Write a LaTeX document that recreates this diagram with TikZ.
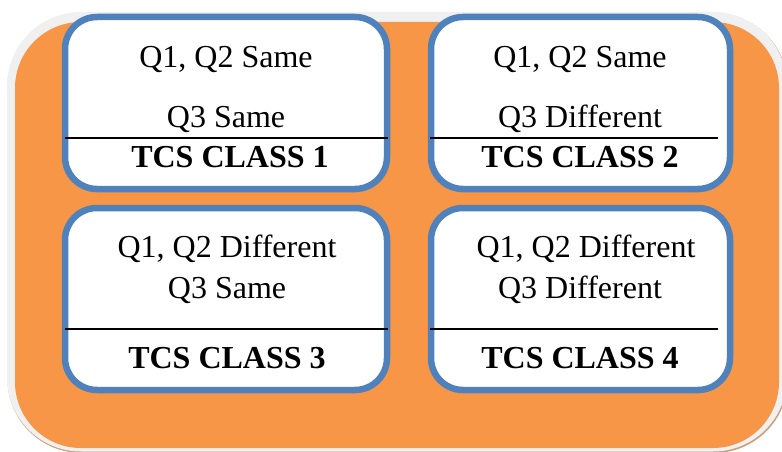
\documentclass[tikz,border=0pt]{standalone}
\usepackage{fontspec}
\setmainfont{Liberation Serif}
\definecolor{panelorange}{HTML}{F79646}
\definecolor{panelrim}{HTML}{F0F0F0}
\definecolor{panelshade}{HTML}{C9A27E}
\definecolor{boxblue}{HTML}{4F81BD}
\tikzset{
  classbox/.style={draw=boxblue, line width=6.5pt, fill=white, rounded corners=32pt, inner sep=0pt},
  divider/.style={draw=black, line width=2pt},
  label/.style={anchor=base, inner sep=0pt, font=\fontsize{32}{38}\selectfont},
  classname/.style={label, font=\fontsize{32}{38}\selectfont\bfseries}
}
\begin{document}
\begin{tikzpicture}[x=1pt,y=-1pt]
\useasboundingbox (0,0) rectangle (782,452);
\begin{scope}
\clip (0,0) rectangle (782,452);
% backing panel: soft shade, light rim, orange face
\fill[panelshade, rounded corners=74pt] (7.5,13) rectangle (788,453);
\fill[panelrim, rounded corners=74pt] (7,12) rectangle (787,451.5);
\fill[panelorange, rounded corners=66pt] (15,22) rectangle (779,448);
\end{scope}

% four class boxes
\node[classbox, minimum width=322pt, minimum height=172pt] (b1) at (226,103) {};
\node[classbox, minimum width=299pt, minimum height=172pt] (b2) at (580.5,103) {};
\node[classbox, minimum width=322pt, minimum height=182pt] (b3) at (226,299) {};
\node[classbox, minimum width=299pt, minimum height=182pt] (b4) at (580.5,299) {};

% dividers above the class names
\draw[divider] (65,137.5) -- (388,137.5);
\draw[divider] (430,137.5) -- (718,137.5);
\draw[divider] (65,329) -- (388,329);
\draw[divider] (430,329) -- (718,329);

% box 1
\node[label] (t1a) at (226,67) {Q1, Q2 Same};
\node[label] (t1b) at (226,128) {Q3 Same};
\node[classname] (t1c) at (230,167) {TCS CLASS 1};
% box 2
\node[label] (t2a) at (580,67) {Q1, Q2 Same};
\node[label] (t2b) at (580,128) {Q3 Different};
\node[classname] (t2c) at (580,167) {TCS CLASS 2};
% box 3
\node[label] (t3a) at (227,257) {Q1, Q2 Different};
\node[label] (t3b) at (227,298) {Q3 Same};
\node[classname] (t3c) at (227,368) {TCS CLASS 3};
% box 4
\node[label] (t4a) at (586,257) {Q1, Q2 Different};
\node[label] (t4b) at (580,298) {Q3 Different};
\node[classname] (t4c) at (580,368) {TCS CLASS 4};
\end{tikzpicture}
\end{document}
